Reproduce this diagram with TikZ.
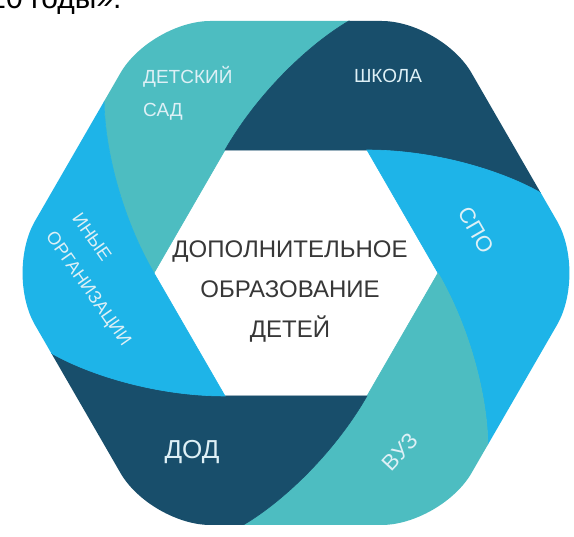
\documentclass[tikz,border=0pt]{standalone}
\usepackage{fontspec}
\setmainfont{Liberation Sans}
\definecolor{sadteal}{RGB}{77,189,193}
\definecolor{schoolnavy}{RGB}{24,78,107}
\definecolor{spocyan}{RGB}{30,180,232}
\definecolor{lbltext}{RGB}{222,240,246}
\definecolor{maintext}{RGB}{55,55,55}
\begin{document}
\begin{tikzpicture}[x=1pt, y=1pt,
    lbl/.style={text=lbltext, font=\fontsize{19}{30}\selectfont, inner sep=0pt}]
  \useasboundingbox (-296,-264) rectangle (278,273);
  \fill[white] (-296,-264) rectangle (278,273);
  % last line of the text above, cut by the page
  \node (prev) [anchor=base east, font=\fontsize{30}{30}\selectfont] at (-171,264) {20 годы».};
  \begin{scope}
    \clip[rounded corners=60pt] (291,0) -- (145.5,252) -- (-145.5,252) -- (-291,0)
      -- (-145.5,-252) -- (145.5,-252) -- cycle;
    \foreach \k/\col in {0/sadteal,1/schoolnavy,2/spocyan,3/sadteal,4/schoolnavy,5/spocyan}
      \filldraw[fill=\col, draw=\col, line width=0.6pt, rotate=-60*\k]
        (-142,0) -- (-71,123) .. controls (-36,184) and (20,235) .. (60,256)
        -- (60,400) -- (-330,400) -- (-321.6,255) -- (-191.7,180)
        .. controls (-193.5,134.8) and (-177.3,60.8) .. (-142,0) -- cycle;
  \end{scope}
  \node (main) [font=\fontsize{24}{40}\selectfont, text=maintext, align=center] at (-6,-19)
    {ДОПОЛНИТЕЛЬНОЕ\\ОБРАЗОВАНИЕ\\ДЕТЕЙ};
  \node (sad) [lbl, align=left, anchor=west, font=\fontsize{19}{33}\selectfont] at (-153,180) {ДЕТСКИЙ\\САД};
  \node (shkola) [lbl] at (92,197) {ШКОЛА};
  \node (spo) [lbl, font=\fontsize{22}{22}\selectfont, rotate=-60] at (180,43) {СПО};
  \node (vuz) [lbl, font=\fontsize{22}{22}\selectfont, rotate=47] at (104,-179) {ВУЗ};
  \node (dod) [lbl, font=\fontsize{26}{26}\selectfont] at (-104,-179) {ДОД};
  \node (inye) [lbl, align=left, anchor=west, rotate=-55, font=\fontsize{18}{32}\selectfont] at (-234,48)
    {ИНЫЕ\\ОРГАНИЗАЦИИ};
\end{tikzpicture}
\end{document}
